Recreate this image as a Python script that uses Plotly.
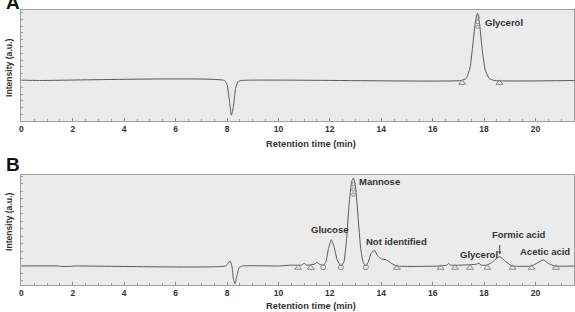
import plotly.graph_objects as go

# ---- Data ----
# Panel A: glycerol standard chromatogram (retention time in min, relative intensity)
a_time = [0.0, 0.7, 7.9, 8.0, 8.1, 8.17, 8.25, 8.33, 8.42, 8.55, 17.1, 17.3, 17.45, 17.57, 17.67, 17.75, 17.83, 17.93, 18.05, 18.2, 18.4, 21.5]
a_signal = [0.005, 0.0, 0.0, -0.06, -0.32, -0.51, -0.38, -0.12, -0.02, 0.0, 0.0, 0.03, 0.18, 0.55, 0.88, 0.99, 0.82, 0.45, 0.15, 0.03, 0.0, 0.0]
a_marks_time = [17.15, 18.6]
a_peak_time = [17.75]
a_peak_label = ["Glycerol"]

# Panel B: hydrolysate chromatogram
b_time = [0.0, 1.4, 1.55, 1.9, 2.05, 7.95, 8.04, 8.12, 8.19, 8.25, 8.31, 8.38, 8.47, 8.6, 10.0, 10.5, 10.9, 11.0, 11.1, 11.4,
          11.5, 11.6, 11.75, 11.85, 11.95, 12.06, 12.16, 12.3, 12.44, 12.55, 12.65, 12.75, 12.85, 12.92, 13.0, 13.1, 13.2, 13.3,
          13.4, 13.5, 13.6, 13.73, 13.85, 14.0, 14.2, 14.4, 14.6, 16.3, 16.55, 16.62, 16.7, 17.1, 17.7, 17.8, 17.9, 18.1, 18.3,
          18.5, 18.63, 18.8, 19.0, 19.1, 19.85, 20.05, 20.3, 20.5, 20.75, 21.5]
b_signal = [0.0, 0.0, -0.005, -0.005, 0.0, 0.0, 0.03, 0.057, 0.0, -0.15, -0.2, -0.12, -0.02, 0.0, 0.0, 0.01, 0.01, 0.03, 0.01, 0.02,
            0.04, 0.02, 0.01, 0.05, 0.2, 0.30, 0.22, 0.06, 0.0, 0.05, 0.3, 0.7, 0.96, 1.0, 0.9, 0.55, 0.2, 0.04,
            0.0, 0.05, 0.14, 0.18, 0.12, 0.08, 0.07, 0.03, 0.0, 0.0, 0.01, 0.03, 0.01, 0.01, 0.02, 0.03, 0.01, 0.01, 0.04,
            0.09, 0.105, 0.06, 0.015, 0.0, 0.0, 0.03, 0.07, 0.03, 0.0, 0.0]
b_tri_time = [10.77, 11.26, 14.61, 16.31, 16.87, 17.45, 18.13, 19.11, 19.85, 20.8]
b_circ_time = [11.74, 12.43, 13.4]
b_labels = ["Mannose", "Glucose", "Not identified", "Glycerol", "Formic acid", "Acetic acid"]
b_label_time = [13.05, 12.0, 14.59, 17.8, 19.35, 20.38]
b_label_level = [0.958, 0.41, 0.284, 0.125, 0.36, 0.163]
b_label_anchor = ["left", "center", "center", "center", "center", "center"]
formic_time = 18.61

x_ticks = [0, 2, 4, 6, 8, 10, 12, 14, 16, 18, 20]

# ---- Figure ----
FONT = "Arial, 'Liberation Sans', sans-serif"
LINE = "#5a5a5a"
MARK = "#8a8a8a"

fig = go.Figure()

fig.add_trace(go.Scatter(x=a_time, y=a_signal, mode="lines", line=dict(color=LINE, width=1, shape="spline", smoothing=0.5),
                         xaxis="x", yaxis="y", hoverinfo="skip"))
fig.add_trace(go.Scatter(x=a_marks_time, y=[-0.035] * len(a_marks_time), mode="markers",
                         marker=dict(symbol="triangle-up-open", size=6, color=MARK, line=dict(width=1)),
                         xaxis="x", yaxis="y"))
fig.add_trace(go.Scatter(x=a_peak_time * 3, y=[0.93, 0.86, 0.79], mode="markers",
                         marker=dict(symbol="square-open", size=3, color=MARK, line=dict(width=0.8)),
                         xaxis="x", yaxis="y"))

fig.add_trace(go.Scatter(x=b_time, y=b_signal, mode="lines", line=dict(color=LINE, width=1, shape="spline", smoothing=0.5),
                         xaxis="x2", yaxis="y2", hoverinfo="skip"))
fig.add_trace(go.Scatter(x=b_tri_time, y=[-0.02] * len(b_tri_time), mode="markers",
                         marker=dict(symbol="triangle-up-open", size=6, color=MARK, line=dict(width=1)),
                         xaxis="x2", yaxis="y2"))
fig.add_trace(go.Scatter(x=b_circ_time, y=[-0.015] * len(b_circ_time), mode="markers",
                         marker=dict(symbol="circle-open", size=5, color=MARK, line=dict(width=1)),
                         xaxis="x2", yaxis="y2"))
fig.add_trace(go.Scatter(x=[12.92] * 3, y=[0.93, 0.87, 0.81], mode="markers",
                         marker=dict(symbol="square-open", size=3, color=MARK, line=dict(width=0.8)),
                         xaxis="x2", yaxis="y2"))

axis_common = dict(
    range=[-0.02, 21.5], tickvals=x_ticks, ticks="inside", ticklen=3, tickcolor="#888",
    showline=True, linecolor="#a0a0a0", linewidth=1, mirror=True, showgrid=False, zeroline=False,
    tickfont=dict(family=FONT, size=8.5, color="#333", weight="bold"),
    minor=dict(dtick=0.5, ticks="inside", ticklen=2, tickcolor="#999"),
)
yaxis_common = dict(
    showticklabels=False, ticks="inside", ticklen=2, tickcolor="#999",
    showline=True, linecolor="#a0a0a0", linewidth=1, mirror=True, showgrid=False, zeroline=False,
)

H = 312.0
fig.update_layout(
    width=575, height=312, margin=dict(l=0, r=0, t=0, b=0),
    paper_bgcolor="white", plot_bgcolor="#ebebeb", showlegend=False,
    xaxis=dict(domain=[19 / 575, 1], anchor="y", **axis_common),
    yaxis=dict(domain=[1 - 121 / H, 1 - 10 / H], anchor="x", range=[-0.596, 1.037], dtick=0.1, **yaxis_common),
    xaxis2=dict(domain=[19 / 575, 1], anchor="y2", **axis_common),
    yaxis2=dict(domain=[1 - 285 / H, 1 - 175 / H], anchor="x2", range=[-0.216, 1.034], dtick=0.085, **yaxis_common),
)

lab_font = dict(family=FONT, size=9.5, color="#333", weight="bold")
ann = []
ann.append(dict(x=17.97, y=0.85, xref="x", yref="y", text=a_peak_label[0], showarrow=False, xanchor="left",
                yanchor="middle", font=lab_font))
for t, xv, yv, anc in zip(b_labels, b_label_time, b_label_level, b_label_anchor):
    ann.append(dict(x=xv, y=yv, xref="x2", yref="y2", text=t, showarrow=False, xanchor=anc, yanchor="middle",
                    font=lab_font))
ann.append(dict(x=formic_time, y=0.13, xref="x2", yref="y2", text="", showarrow=True, ax=0, ay=-11,
                arrowhead=2, arrowsize=0.6, arrowwidth=1, arrowcolor="#444"))

title_font = dict(family=FONT, size=9.3, color="#333", weight="bold")
for yc in [144, 306]:
    ann.append(dict(x=311 / 575, y=1 - yc / H, xref="paper", yref="paper", text="Retention time (min)",
                    showarrow=False, xanchor="center", yanchor="middle", font=title_font))
for yc in [68, 222]:
    ann.append(dict(x=7 / 575, y=1 - yc / H, xref="paper", yref="paper", text="Intensity (a.u.)", textangle=-90,
                    showarrow=False, xanchor="center", yanchor="middle",
                    font=dict(family=FONT, size=8.6, color="#333", weight="bold")))
for letter, yc in [("A", 3), ("B", 164)]:
    ann.append(dict(x=2 / 575, y=1 - yc / H, xref="paper", yref="paper", text=letter, showarrow=False,
                    xanchor="left", yanchor="middle", font=dict(family=FONT, size=19, color="#111", weight="bold")))
fig.update_layout(annotations=ann)

fig.write_html("out.html")
